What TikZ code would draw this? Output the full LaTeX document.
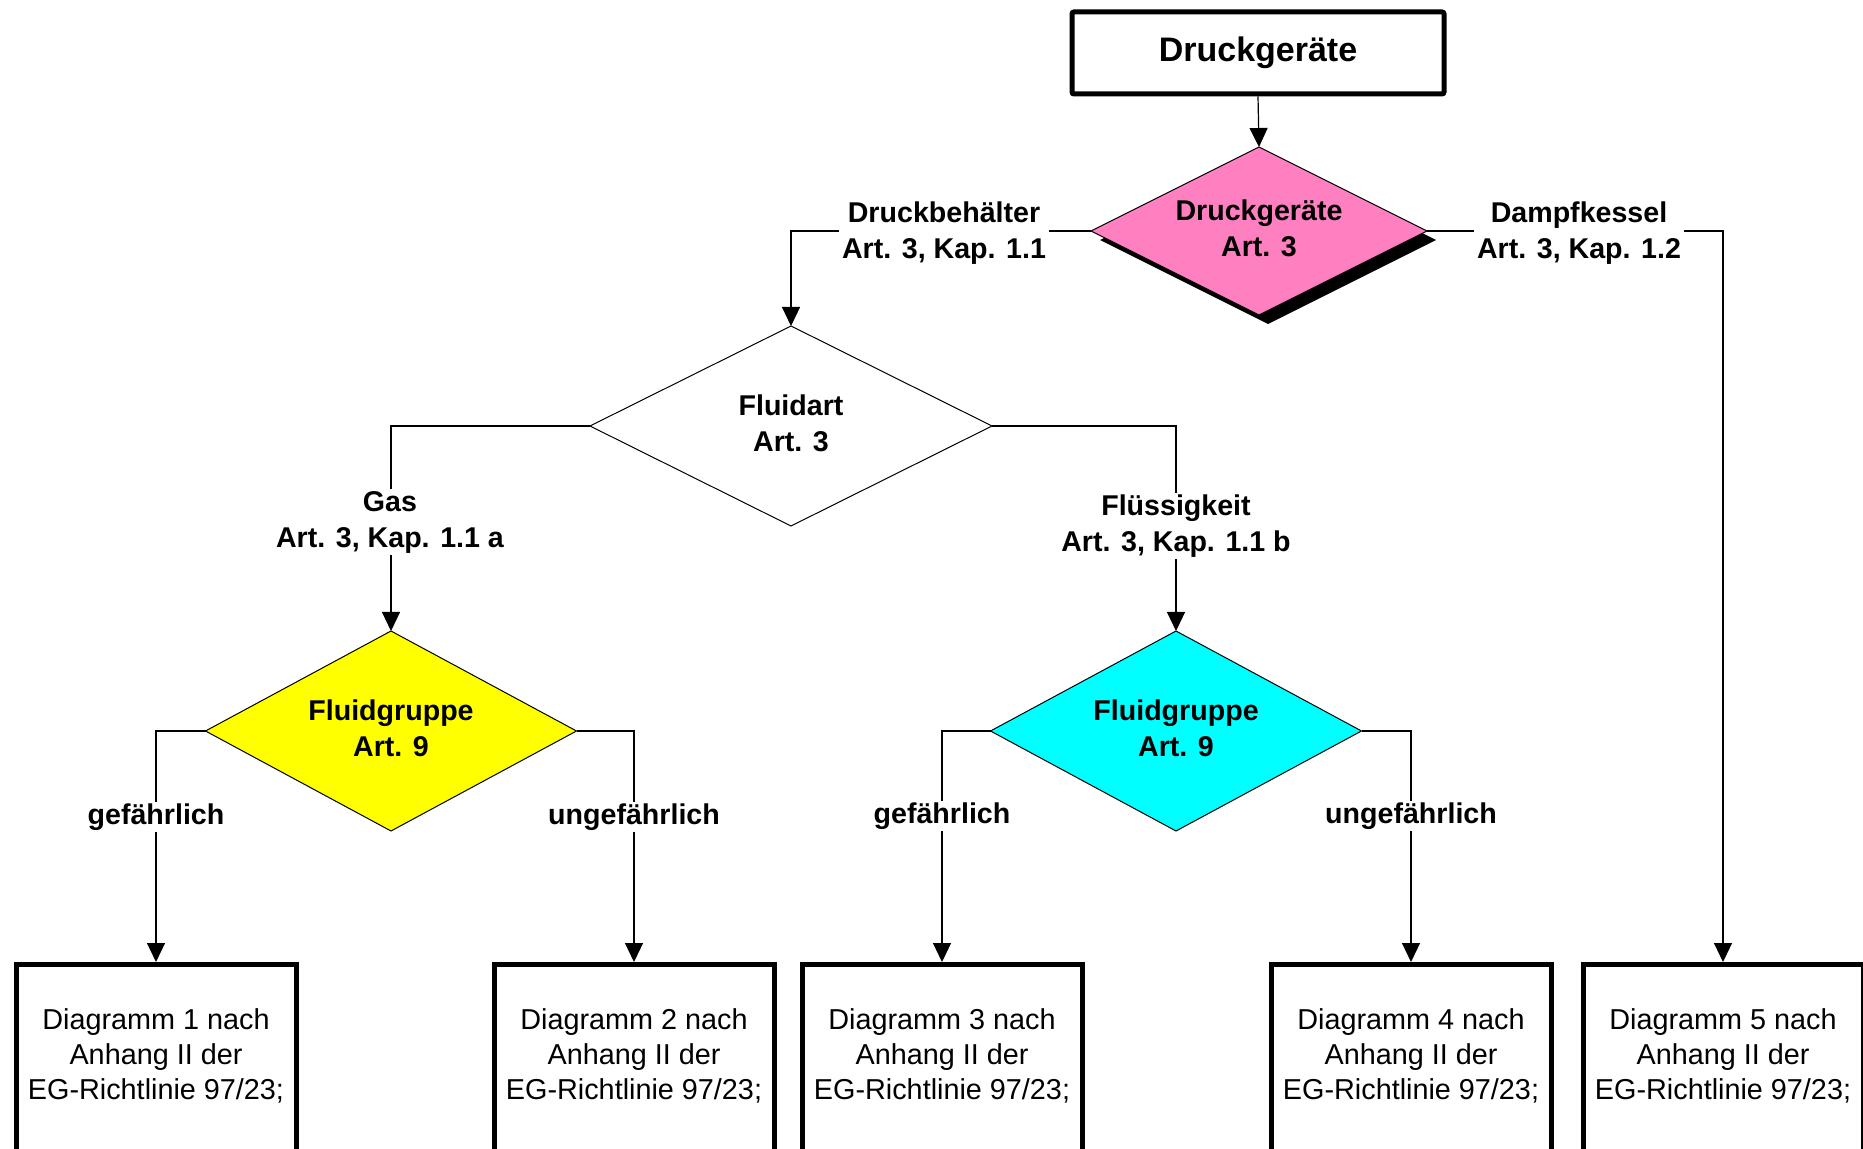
\documentclass[tikz,border=0pt]{standalone}
\usepackage{fontspec}
\setmainfont{Liberation Sans}
\usetikzlibrary{arrows.meta,shapes.geometric,shadows}
\definecolor{pinkfill}{RGB}{255,128,192}
\definecolor{yellowfill}{RGB}{255,255,0}
\definecolor{cyanfill}{RGB}{0,255,255}
\begin{document}
\begin{tikzpicture}[x=0.5pt,y=-0.5pt,
 conn/.style={line width=0.6pt,draw=black},
 arr/.style={conn,-{Triangle[length=9.5pt,width=9pt]}},
 dec/.style={diamond,draw,line width=0.5pt,inner sep=0pt,outer sep=0pt,align=center,text depth=3pt,font=\fontsize{14.3}{18}\selectfont\bfseries},
 lbl/.style={fill=white,inner xsep=1.5pt,inner ysep=1pt,align=center,font=\fontsize{14.3}{18}\selectfont\bfseries},
 result/.style={draw,line width=2.5pt,minimum width=140pt,minimum height=110pt,anchor=north,align=center,font=\fontsize{14.4}{17.5}\selectfont},
]
\clip (0,0) rectangle (1863,1149);
\fill[white] (0,0) rectangle (1863,1149);

% top box
\node[draw,line width=2.5pt,rounded corners=1pt,minimum width=186pt,minimum height=41pt,font=\fontsize{17}{20}\selectfont\bfseries] (top) at (1258,53) {Druckgeräte};

% diamonds
\node[dec,fill=pinkfill,aspect=2,minimum width=168pt,minimum height=84pt,
      drop shadow={shadow xshift=4.5pt,shadow yshift=-4.5pt,fill=black,opacity=1}] (pink) at (1259,231) {Druckgeräte\\Art. 3};
\node[dec,fill=white,aspect=2,minimum width=201pt,minimum height=100pt] (fluid) at (791,426) {Fluidart\\Art. 3};
\node[dec,fill=yellowfill,aspect=1.85,minimum width=185.5pt,minimum height=100pt] (yel) at (391,731) {Fluidgruppe\\Art. 9};
\node[dec,fill=cyanfill,aspect=1.85,minimum width=185.5pt,minimum height=100pt] (cya) at (1176,731) {Fluidgruppe\\Art. 9};

% result boxes
\node[result] (r1) at (156,962) {Diagramm 1 nach\\Anhang II der\\EG-Richtlinie 97/23;\\[3pt]\mbox{}};
\node[result] (r2) at (634,962) {Diagramm 2 nach\\Anhang II der\\EG-Richtlinie 97/23;\\[3pt]\mbox{}};
\node[result] (r3) at (942,962) {Diagramm 3 nach\\Anhang II der\\EG-Richtlinie 97/23;\\[3pt]\mbox{}};
\node[result] (r4) at (1411,962) {Diagramm 4 nach\\Anhang II der\\EG-Richtlinie 97/23;\\[3pt]\mbox{}};
\node[result] (r5) at (1723,962) {Diagramm 5 nach\\Anhang II der\\EG-Richtlinie 97/23;\\[3pt]\mbox{}};

% connectors
\draw[arr] (top.south) -- (pink.north);
\draw[arr] (pink.west) -| (fluid.north);
\draw[arr] (pink.east) -| (r5.north);
\draw[arr] (fluid.west) -| (yel.north);
\draw[arr] (fluid.east) -| (cya.north);
\draw[arr] (yel.west) -| (r1.north);
\draw[arr] (yel.east) -| (r2.north);
\draw[arr] (cya.west) -| (r3.north);
\draw[arr] (cya.east) -| (r4.north);

% labels
\node[lbl] (lDB) at (944,233) {Druckbehälter\\Art. 3, Kap. 1.1};
\node[lbl] (lDK) at (1579,233) {Dampfkessel\\Art. 3, Kap. 1.2};
\node[lbl] (lGas) at (390,522) {Gas\\Art. 3, Kap. 1.1 a};
\node[lbl] (lFl) at (1176,526) {Flüssigkeit\\Art. 3, Kap. 1.1 b};
\node[lbl] (lg1) at (156,817) {gefährlich};
\node[lbl] (lu1) at (634,817) {ungefährlich};
\node[lbl] (lg2) at (942,816) {gefährlich};
\node[lbl] (lu2) at (1411,816) {ungefährlich};
\end{tikzpicture}
\end{document}
